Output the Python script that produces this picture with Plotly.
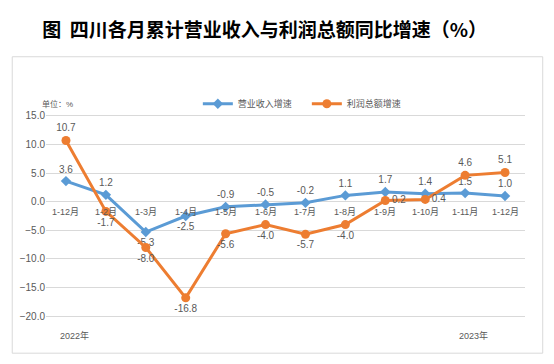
import plotly.graph_objects as go

categories = ["1-12月", "1-2月", "1-3月", "1-4月", "1-5月", "1-6月",
              "1-7月", "1-8月", "1-9月", "1-10月", "1-11月", "1-12月"]
cat_keys = [f"c{i}" for i in range(len(categories))]
revenue_growth = [3.6, 1.2, -5.3, -2.5, -0.9, -0.5, -0.2, 1.1, 1.7, 1.4, 1.5, 1.0]
profit_growth = [10.7, -1.7, -8.0, -16.8, -5.6, -4.0, -5.7, -4.0, 0.2, 0.4, 4.6, 5.1]
y_ticks = [15, 10, 5, 0, -5, -10, -15, -20]

BLUE = "#5B9BD5"
ORANGE = "#ED7D31"
GRAY = "#595959"
FONT = "Liberation Sans, Noto Sans CJK SC, sans-serif"

rev_pos = ["top center"] * 12
rev_pos[2] = "bottom center"
rev_pos[3] = "bottom center"
prof_pos = ["bottom center"] * 12
prof_pos[0] = "top center"
prof_pos[8] = "middle right"
prof_pos[9] = "middle right"
prof_pos[10] = "top center"
prof_pos[11] = "top center"

fig = go.Figure()
fig.add_trace(go.Scatter(
    x=cat_keys, y=revenue_growth, name="营业收入增速",
    mode="lines+markers+text",
    line=dict(color=BLUE, width=3),
    marker=dict(symbol="diamond", size=8, color=BLUE),
    text=[f"{v:.1f}" for v in revenue_growth], textposition=rev_pos,
    textfont=dict(size=10, color=GRAY, family=FONT),
    cliponaxis=False,
))
fig.add_trace(go.Scatter(
    x=cat_keys, y=profit_growth, name="利润总额增速",
    mode="lines+markers+text",
    line=dict(color=ORANGE, width=3),
    marker=dict(symbol="circle", size=9, color=ORANGE),
    text=[f"{v:.1f}" for v in profit_growth], textposition=prof_pos,
    textfont=dict(size=10, color=GRAY, family=FONT),
    cliponaxis=False,
))

annotations = []
for k, lab in zip(cat_keys, categories):
    annotations.append(dict(x=k, y=0, xref="x", yref="y", text=lab, showarrow=False,
                            yshift=-10, font=dict(size=9, color=GRAY, family=FONT)))
annotations += [
    dict(x=-0.013, y=1.045, xref="paper", yref="paper", text="单位：%", showarrow=False,
         xanchor="left", yanchor="middle", font=dict(size=8, color=GRAY, family=FONT)),
    dict(x=0.025, y=-0.117, xref="paper", yref="paper", text="2022年", showarrow=False,
         font=dict(size=9, color=GRAY, family=FONT)),
    dict(x=0.927, y=-0.117, xref="paper", yref="paper", text="2023年", showarrow=False,
         font=dict(size=9, color=GRAY, family=FONT)),
]

fig.update_layout(
    width=546, height=356,
    margin=dict(l=35, r=29, t=105, b=45),
    paper_bgcolor="white", plot_bgcolor="white",
    title=dict(text="图\u00a0\u00a0四川各月累计营业收入与利润总额同比增速（%）",
               x=0.470, xref="container", xanchor="center", y=0.938, yanchor="middle",
               font=dict(size=19, color="black", family="Noto Sans CJK SC", weight="bold")),
    xaxis=dict(type="category", showticklabels=False, showgrid=False, zeroline=False,
               showline=False, ticks="", range=[-0.5, 11.5]),
    yaxis=dict(range=[-20.5, 15.5], tickvals=y_ticks, tickformat=".1f",
               showgrid=True, gridcolor="#d9d9d9", gridwidth=1, zeroline=False,
               showline=False, ticks="",
               tickfont=dict(size=10, color=GRAY, family=FONT)),
    legend=dict(orientation="h", x=0.317, y=1.045, xanchor="left", yanchor="middle",
                font=dict(size=9, color=GRAY, family=FONT),
                entrywidth=64, itemwidth=30, bgcolor="rgba(0,0,0,0)"),
    annotations=annotations,
    shapes=[dict(type="rect", xref="paper", yref="paper",
                 x0=-0.0705, x1=1.037, y0=-0.166, y1=1.273,
                 line=dict(color="#d9d9d9", width=1), fillcolor="rgba(0,0,0,0)",
                 layer="below")],
    showlegend=True,
)

fig.write_html("out.html")
